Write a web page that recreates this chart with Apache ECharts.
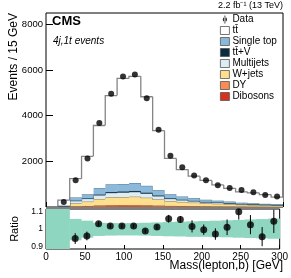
<!DOCTYPE html>
<html><head><meta charset="utf-8">
<script src="https://cdn.jsdelivr.net/npm/echarts@6/dist/echarts.min.js"></script>
<style>html,body{margin:0;padding:0;background:#fff}#c{width:291px;height:278px}</style>
</head><body><div id="c"></div>
<script>
const binEdges = [0,15,30,45,60,75,90,105,120,135,150,165,180,195,210,225,240,255,270,285,300];
const ttbar     = [0,240,820,1660,2740,3880,4625,4675,3900,2610,1570,1180,960,845,686,577,473,458,404,312];
const singleTop = [0,17,140,180,285,340,330,345,300,235,177,140,118,96,83,70,53,46,38,33];
const ttV       = [0,1,7,13,24,35,38,40,35,26,17,12,10,8,7,6,5,5,4,3];
const multijets = [0,15,110,130,170,200,205,210,185,145,105,85,70,55,48,40,32,27,23,20];
const wjets     = [0,20,130,190,280,340,350,365,330,270,210,180,155,130,115,100,80,70,62,55];
const dy        = [0,5,25,35,55,65,65,68,60,48,38,32,28,23,20,18,15,13,11,10];
const dibosons  = [0,2,8,12,16,20,22,22,20,16,13,11,9,8,7,6,5,4,4,3];
const dataValues = [null,220,1170,2130,3680,4960,5720,5810,4770,3390,2250,1740,1380,1170,950,835,740,645,530,460];
const ratioValues = [null,null,0.945,0.96,1.03,1.017,1.017,1.017,0.989,1.011,1.059,1.055,1.015,0.996,0.971,1.01,1.099,1.025,0.956,1.044];
const ratioErrors = [null,null,0.031,0.025,0.014,0.012,0.012,0.012,0.012,0.014,0.022,0.02,0.035,0.03,0.033,0.045,0.045,0.055,0.055,0.067];
const bandLow  = [0.8,0.8,0.935,0.95,0.96,0.962,0.963,0.963,0.962,0.96,0.958,0.957,0.955,0.955,0.953,0.952,0.95,0.948,0.946,0.944];
const bandHigh = [1.2,1.2,1.058,1.048,1.036,1.035,1.034,1.034,1.036,1.038,1.04,1.042,1.044,1.046,1.048,1.05,1.052,1.055,1.057,1.06];
const xTicks = [0,50,100,150,200,250,300];
const yTicks = [2000,4000,6000,8000];
const ratioTicks = [0.9,1,1.1];

const FONT = '"Liberation Sans", Arial, sans-serif';
const nb = binEdges.length - 1;
function center(i){ return (binEdges[i]+binEdges[i+1])/2; }

const layers = [
  {name:'Dibosons', vals:dibosons, fill:'#d7301f', line:'#6b2315'},
  {name:'DY', vals:dy, fill:'#f98b53', line:'#7a4325'},
  {name:'W+jets', vals:wjets, fill:'#fddf8d', line:'#6e5a35'},
  {name:'Multijets', vals:multijets, fill:'#dcedf6', line:'#3d5566'},
  {name:'tt\u0304+V', vals:ttV, fill:'#0b2b40', line:'#0b2b40'},
  {name:'Single top', vals:singleTop, fill:'#8cb9d9', line:'#3f6683'},
  {name:'tt\u0304', vals:ttbar, fill:'#ffffff', line:'#858585'}
];

const series = [];
let base = new Array(nb).fill(0);
layers.forEach((l, li) => {
  const items = [];
  const tops = [];
  for (let i=0;i<nb;i++){
    const top = base[i] + l.vals[i];
    tops.push(top);
    items.push([binEdges[i], binEdges[i+1], base[i], top, i>0 ? base[i-1] + l.vals[i-1] : 0]);
  }
  const isTT = l.name === 'tt\u0304';
  series.push({
    name: l.name, type:'custom', xAxisIndex:0, yAxisIndex:0, silent:true, clip:true, z: 2 + li*0.01,
    itemStyle:{color:l.fill},
    data: items,
    renderItem: function(params, api){
      const x0 = api.value(0), x1 = api.value(1), b = api.value(2), t = api.value(3), pt = api.value(4);
      const pA = api.coord([x0, t]), pB = api.coord([x1, b]);
      const pPrev = api.coord([x0, pt]);
      const children = [];
      if (t > b) children.push({type:'rect', shape:{x:pA[0], y:pA[1], width:pB[0]-pA[0]+0.3, height:pB[1]-pA[1]}, style:{fill:l.fill}});
      if (t > 0 || pt > 0) {
        children.push({type:'polyline', shape:{points:[[pA[0], pPrev[1]], [pA[0], pA[1]], [pB[0], pA[1]]]},
          style:{stroke:l.line, lineWidth: isTT ? 1.3 : 0.8, fill:null}});
      }
      return {type:'group', children: children};
    }
  });
  base = tops;
});

series.push({
  name:'Data', type:'scatter', xAxisIndex:0, yAxisIndex:0, symbolSize:6,
  itemStyle:{color:'#000'}, z:10,
  data: dataValues.map((v,i)=> v==null ? null : [center(i), v]).filter(d=>d)
});

series.push({
  type:'custom', xAxisIndex:1, yAxisIndex:1, clip:true, z:1, silent:true,
  data: bandLow.map((lo,i)=>[binEdges[i], binEdges[i+1], lo, bandHigh[i]]),
  renderItem: function(params, api){
    const p1 = api.coord([api.value(0), api.value(3)]);
    const p2 = api.coord([api.value(1), api.value(2)]);
    return {type:'rect', shape:{x:p1[0], y:p1[1], width:p2[0]-p1[0]+0.5, height:p2[1]-p1[1]},
      style:{fill:'#8fd6c1'}};
  }
});
series.push({
  type:'custom', xAxisIndex:1, yAxisIndex:1, clip:true, z:5, silent:true,
  data: ratioValues.map((v,i)=> v==null?null:[center(i), v - ratioErrors[i], v + ratioErrors[i]]).filter(d=>d),
  renderItem: function(params, api){
    const a = api.coord([api.value(0), api.value(1)]);
    const b = api.coord([api.value(0), api.value(2)]);
    return {type:'line', shape:{x1:a[0], y1:a[1], x2:b[0], y2:b[1]}, style:{stroke:'#000', lineWidth:1}};
  }
});
series.push({
  type:'scatter', xAxisIndex:1, yAxisIndex:1, symbolSize:7, z:10, clip:true,
  itemStyle:{color:'#000'},
  data: ratioValues.map((v,i)=> v==null?null:[center(i), v]).filter(d=>d)
});

const legendData = [
  {name:'Data', icon:'path://M4,0h1v9h-1z M4.5,2a2.5,2.5 0 1,0 0.001,0z', itemStyle:{color:'#000'}},
  {name:'tt\u0304', icon:'rect', itemStyle:{color:'#fff', borderColor:'#555', borderWidth:0.8}},
  {name:'Single top', icon:'rect', itemStyle:{color:'#8cb9d9', borderColor:'#555', borderWidth:0.8}},
  {name:'tt\u0304+V', icon:'rect', itemStyle:{color:'#0b2b40', borderColor:'#555', borderWidth:0.8}},
  {name:'Multijets', icon:'rect', itemStyle:{color:'#dcedf6', borderColor:'#555', borderWidth:0.8}},
  {name:'W+jets', icon:'rect', itemStyle:{color:'#fddf8d', borderColor:'#555', borderWidth:0.8}},
  {name:'DY', icon:'rect', itemStyle:{color:'#f98b53', borderColor:'#555', borderWidth:0.8}},
  {name:'Dibosons', icon:'rect', itemStyle:{color:'#d7301f', borderColor:'#555', borderWidth:0.8}}
];

const chart = echarts.init(document.getElementById('c'), null, {renderer:'canvas'});
chart.setOption({
  animation:false,
  backgroundColor:'#fff',
  textStyle:{fontFamily:FONT},
  grid:[
    {left:46, top:13, width:237, height:194, show:true, borderColor:'#000', borderWidth:1, backgroundColor:'transparent'},
    {left:46, top:209, width:237, height:40, show:true, borderColor:'#000', borderWidth:1, backgroundColor:'transparent'}
  ],
  xAxis:[
    {type:'value', gridIndex:0, min:0, max:300, axisLine:{show:false}, splitLine:{show:false},
      axisTick:{show:true, inside:true, length:5, customValues:xTicks, lineStyle:{color:'#000'}},
      axisLabel:{show:false}},
    {type:'value', gridIndex:1, min:0, max:300, axisLine:{show:false}, splitLine:{show:false},
      axisTick:{show:true, inside:true, length:4, customValues:xTicks, lineStyle:{color:'#000'}},
      axisLabel:{show:true, customValues:xTicks, fontSize:10, color:'#000', margin:3, fontFamily:FONT,
        formatter:v=>String(v)}}
  ],
  yAxis:[
    {type:'value', gridIndex:0, min:0, max:8500, axisLine:{show:false}, splitLine:{show:false},
      axisTick:{show:true, inside:true, length:7, customValues:yTicks, lineStyle:{color:'#000'}},
      axisLabel:{show:true, customValues:yTicks, fontSize:9.5, color:'#000', margin:3, fontFamily:FONT,
        formatter:v=>String(v)}},
    {type:'value', gridIndex:1, min:0.885, max:1.115, axisLine:{show:false}, splitLine:{show:false},
      axisTick:{show:true, inside:true, length:5, customValues:ratioTicks, lineStyle:{color:'#000'}},
      axisLabel:{show:true, customValues:ratioTicks, fontSize:8.5, color:'#000', margin:3, fontFamily:FONT,
        formatter:v=>String(Math.round(v*10)/10)}}
  ],
  legend:{
    orient:'vertical', left:220, top:14, itemWidth:9, itemHeight:8, itemGap:0, padding:0,
    selectedMode:false, data:legendData,
    textStyle:{fontSize:10, lineHeight:11, color:'#000', fontFamily:FONT, padding:[0,0,0,-2]}
  },
  graphic:[
    {type:'text', left:52, top:15, style:{text:'CMS', font:'bold 13px '+FONT, fill:'#000'}},
    {type:'text', left:53, top:36, style:{text:'4j,1t events', font:'italic 10px '+FONT, fill:'#000'}},
    {type:'text', right:8, top:1, style:{text:'2.2 fb\u207B\u00B9 (13 TeV)', font:'9px '+FONT, fill:'#000'}},
    {type:'text', x:8, y:13, rotation:Math.PI/2, style:{text:'Events / 15 GeV', font:'12px '+FONT, fill:'#000', align:'right', verticalAlign:'top'}},
    {type:'text', x:9, y:229, rotation:Math.PI/2, style:{text:'Ratio', font:'11px '+FONT, fill:'#000', align:'center', verticalAlign:'top'}},
    {type:'text', right:8, top:260, style:{text:'Mass(lepton,b) [GeV]', font:'12px '+FONT, fill:'#000'}}
  ],
  series: series
});
</script></body></html>
